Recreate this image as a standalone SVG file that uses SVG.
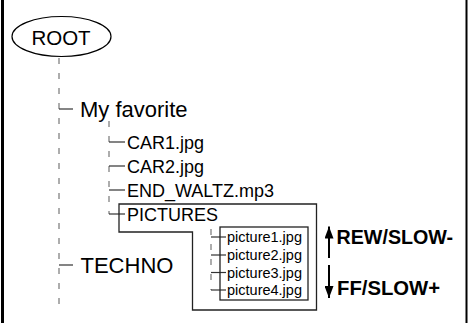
<svg xmlns="http://www.w3.org/2000/svg" width="468" height="323" viewBox="0 0 468 323">
<style>
text{font-family:"Liberation Sans",Arial,sans-serif;fill:#000}
.dash{stroke:#777;stroke-width:1.2;stroke-dasharray:6 9;fill:none}
.tick{stroke:#333;stroke-width:1.2;fill:none}
.box{stroke:#222;stroke-width:1.3;fill:none}
.bold{font-weight:bold}
</style>
<defs>
<marker id="ah" viewBox="0 0 12 9" refX="12" refY="4.5" markerWidth="12" markerHeight="9" markerUnits="userSpaceOnUse" orient="auto">
<path d="M0,0 L12,4.5 L0,9 Z" fill="#000"/>
</marker>
</defs>
<g id="frame">
<line x1="2.5" y1="0" x2="2.5" y2="323" stroke="#000" stroke-width="3"/>
<line x1="466.5" y1="0" x2="466.5" y2="323" stroke="#000" stroke-width="2"/>
</g>
<g id="connectors">
<line class="dash" x1="59" y1="58" x2="59" y2="310"/>
<line class="tick" x1="59" y1="109" x2="73" y2="109"/>
<line class="tick" x1="59" y1="265" x2="73" y2="265"/>
<line class="dash" x1="109" y1="121" x2="109" y2="214"/>
<line class="tick" x1="109" y1="142" x2="125" y2="142"/>
<line class="tick" x1="109" y1="166" x2="125" y2="166"/>
<line class="tick" x1="109" y1="190" x2="125" y2="190"/>
<line class="tick" x1="109" y1="214" x2="125" y2="214"/>
<line class="dash" x1="211" y1="229" x2="211" y2="290"/>
<line class="tick" x1="211" y1="237" x2="226" y2="237"/>
<line class="tick" x1="211" y1="255" x2="226" y2="255"/>
<line class="tick" x1="211" y1="272.5" x2="226" y2="272.5"/>
<line class="tick" x1="211" y1="290" x2="226" y2="290"/>
</g>
<g id="root">
<ellipse cx="61.5" cy="36.5" rx="49.5" ry="20" fill="none" stroke="#000" stroke-width="1.2"/>
<text x="61" y="45" font-size="20.5" text-anchor="middle">ROOT</text>
</g>
<g id="myfavorite"><text x="80" y="117" font-size="22">My favorite</text></g>
<g id="car1"><text x="127" y="148.5" font-size="18">CAR1.jpg</text></g>
<g id="car2"><text x="127" y="172.5" font-size="18">CAR2.jpg</text></g>
<g id="endwaltz"><text x="127" y="196.5" font-size="18">END_WALTZ.mp3</text></g>
<g id="pictures">
<path class="box" d="M119,204 H316.5 V310 H192.5 V232 H119 Z"/>
<text x="127" y="220.5" font-size="18">PICTURES</text>
</g>
<g id="picturelist">
<rect class="box" x="220" y="227" width="88" height="73"/>
<text x="227" y="242" font-size="14.5">picture1.jpg</text>
<text x="227" y="260" font-size="14.5">picture2.jpg</text>
<text x="227" y="277.5" font-size="14.5">picture3.jpg</text>
<text x="227" y="295" font-size="14.5">picture4.jpg</text>
</g>
<g id="techno"><text x="80.5" y="273" font-size="22">TECHNO</text></g>
<g id="controls">
<line x1="329" y1="258" x2="329" y2="226.5" stroke="#000" stroke-width="2" marker-end="url(#ah)"/>
<line x1="329" y1="265" x2="329" y2="298" stroke="#000" stroke-width="2" marker-end="url(#ah)"/>
<text class="bold" x="336.5" y="243.5" font-size="19.7">REW/SLOW-</text>
<text class="bold" x="337" y="295" font-size="20.3">FF/SLOW+</text>
</g>
</svg>
